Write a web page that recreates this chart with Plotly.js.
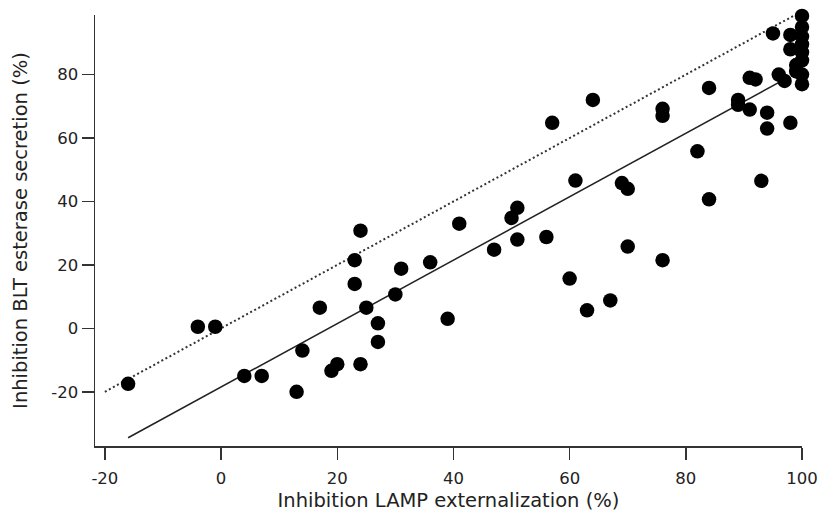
<!DOCTYPE html>
<html>
<head>
<meta charset="utf-8">
<script src="https://cdn.plot.ly/plotly-3.0.1.min.js"></script>
<style>html,body{margin:0;padding:0;background:#fff;}#chart{width:821px;height:512px;}</style>
</head>
<body>
<div id="chart"></div>
<script>
// LAMP externalization inhibition (%) vs BLT esterase secretion inhibition (%)
const lampX = [-16, -4, -1, 4, 7, 14, 13, 17, 23, 23, 24, 19, 20, 24, 25, 27, 27, 30, 31, 36,
  39, 41, 47, 50, 51, 51, 56, 57, 60, 61, 63, 64, 67, 69, 70, 70, 76, 76, 76, 82,
  84, 84, 89, 89, 91, 91, 92, 94, 94, 93, 98, 95, 96, 97, 98, 98, 99, 99,
  100, 100, 100, 100, 100, 100, 100, 100];
const bltY = [-17.5, 0.5, 0.5, -15, -15, -7, -20, 6.5, 14, 21.5, 30.8, -13.4, -11.3, -11.3, 6.5, 1.6, -4.3, 10.7, 18.8, 20.8,
  3, 33, 24.8, 34.8, 38, 28, 28.8, 64.8, 15.7, 46.6, 5.7, 72, 8.8, 45.8, 44, 25.8, 21.5, 69.2, 67, 55.8,
  75.8, 40.7, 72, 70.5, 69, 79, 78.5, 68, 63, 46.5, 64.8, 93, 80, 78, 92.5, 88, 83, 81,
  98.5, 95, 92, 89.5, 87, 84.5, 80, 77];

// regression line and identity line
const fitX = [-16, 97];
const fitY = [-34.5, 78.5];
const idX = [-20, 100];
const idY = [-20, 100];

const xTicks = [-20, 0, 20, 40, 60, 80, 100];
const yTicks = [-20, 0, 20, 40, 60, 80];

const traces = [
  {x: idX, y: idY, mode: 'lines', type: 'scatter', hoverinfo: 'skip',
   line: {color: '#333', width: 2, dash: '2px,2.6px'}},
  {x: fitX, y: fitY, mode: 'lines', type: 'scatter', hoverinfo: 'skip',
   line: {color: '#222', width: 1.5}},
  {x: lampX, y: bltY, mode: 'markers', type: 'scatter', cliponaxis: false,
   marker: {color: '#000', size: 14.5}}
];

const axisCommon = {
  showline: true, linecolor: '#333', linewidth: 1.5,
  ticks: 'outside', ticklen: 12, tickwidth: 1.5, tickcolor: '#333',
  showgrid: false, zeroline: false,
  tickfont: {family: 'DejaVu Sans', size: 16.5, color: '#222'}
};

const layout = {
  width: 821, height: 512,
  margin: {l: 95, r: 19, t: 15, b: 66},
  paper_bgcolor: '#fff', plot_bgcolor: '#fff',
  showlegend: false,
  xaxis: Object.assign({}, axisCommon, {
    range: [-21.7, 100], tickvals: xTicks, ticktext: xTicks.map(String),
    ticklabelstandoff: 5,
    title: {text: 'Inhibition LAMP externalization (%)', standoff: 6,
            font: {family: 'DejaVu Sans', size: 19.5, color: '#222'}}
  }),
  yaxis: Object.assign({}, axisCommon, {
    range: [-37.1, 98.8], tickvals: yTicks, ticktext: yTicks.map(String),
    title: {text: 'Inhibition BLT esterase secretion (%)', standoff: 18,
            font: {family: 'DejaVu Sans', size: 19.5, color: '#222'}}
  })
};

Plotly.newPlot('chart', traces, layout, {displayModeBar: false, staticPlot: true});
</script>
</body>
</html>
